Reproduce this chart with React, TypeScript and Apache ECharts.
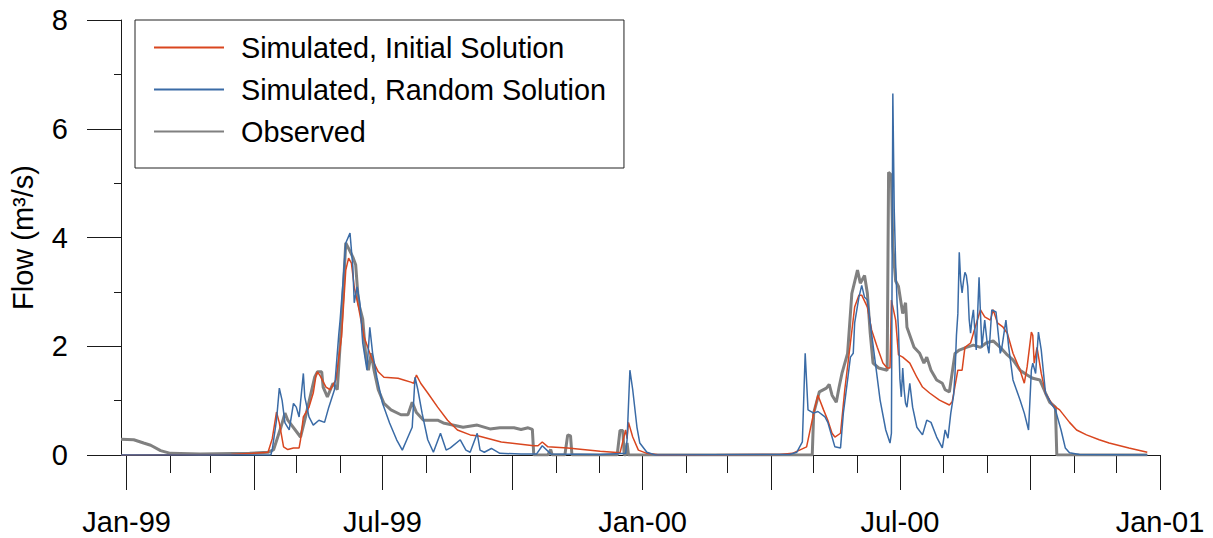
import React, { useEffect, useRef } from "react";
import * as echarts from "echarts";

const FONT = "'Liberation Sans', Arial, Helvetica, sans-serif";

const X_MIN = "1998-12-28";
const X_MAX = "2001-01-01";

const MONTH_TICKS = [
  "1999-01-01", "1999-02-01", "1999-03-01", "1999-04-01", "1999-05-01", "1999-06-01",
  "1999-07-01", "1999-08-01", "1999-09-01", "1999-10-01", "1999-11-01", "1999-12-01",
  "2000-01-01", "2000-02-01", "2000-03-01", "2000-04-01", "2000-05-01", "2000-06-01",
  "2000-07-01", "2000-08-01", "2000-09-01", "2000-10-01", "2000-11-01", "2000-12-01",
  "2001-01-01",
];
const QUARTER_TICKS = [
  "1999-01-01", "1999-04-01", "1999-07-01", "1999-10-01",
  "2000-01-01", "2000-04-01", "2000-07-01", "2000-10-01", "2001-01-01",
];
const LABEL_TICKS = ["1999-01-01", "1999-07-01", "2000-01-01", "2000-07-01", "2001-01-01"];
const MONTH_NAMES = ["Jan", "Feb", "Mar", "Apr", "May", "Jun", "Jul", "Aug", "Sep", "Oct", "Nov", "Dec"];

const SERIES_NAMES = ["Simulated, Initial Solution", "Simulated, Random Solution", "Observed"];

const observedFlow: [string, number][] = [
  ["1998-12-28", 0.29], ["1999-01-06", 0.28], ["1999-01-13", 0.22], ["1999-01-18", 0.18],
  ["1999-01-25", 0.08], ["1999-02-01", 0.03], ["1999-02-22", 0.02], ["1999-03-29", 0.03],
  ["1999-04-11", 0.05], ["1999-04-15", 0.1], ["1999-04-20", 0.5], ["1999-04-23", 0.77],
  ["1999-04-25", 0.64], ["1999-05-02", 0.4], ["1999-05-04", 0.33], ["1999-05-07", 0.64],
  ["1999-05-14", 1.43], ["1999-05-16", 1.53], ["1999-05-19", 1.53], ["1999-05-20", 1.25],
  ["1999-05-23", 1.07], ["1999-05-27", 1.32], ["1999-05-30", 1.2], ["1999-06-02", 2.43],
  ["1999-06-05", 3.9], ["1999-06-07", 3.8], ["1999-06-10", 3.64], ["1999-06-12", 3.5],
  ["1999-06-14", 2.8], ["1999-06-17", 2.5], ["1999-06-19", 1.87], ["1999-06-21", 1.56],
  ["1999-06-23", 1.87], ["1999-06-25", 1.56], ["1999-06-28", 1.2], ["1999-07-02", 0.95],
  ["1999-07-07", 0.83], ["1999-07-14", 0.74], ["1999-07-19", 0.74], ["1999-07-22", 0.97],
  ["1999-07-25", 0.78], ["1999-07-30", 0.64], ["1999-08-09", 0.64], ["1999-08-13", 0.59],
  ["1999-08-27", 0.51], ["1999-09-06", 0.55], ["1999-09-15", 0.48], ["1999-09-22", 0.5],
  ["1999-10-02", 0.5], ["1999-10-07", 0.47], ["1999-10-12", 0.5], ["1999-10-15", 0.47],
  ["1999-10-16", 0], ["1999-10-26", 0], ["1999-10-28", 0.1], ["1999-10-29", 0],
  ["1999-11-07", 0], ["1999-11-09", 0.37], ["1999-11-11", 0.35], ["1999-11-12", 0],
  ["1999-12-14", 0], ["1999-12-16", 0.45], ["1999-12-18", 0.45], ["1999-12-19", 0],
  ["1999-12-20", 0], ["1999-12-21", 0.22], ["1999-12-22", 0], ["2000-04-30", 0],
  ["2000-05-01", 0.77], ["2000-05-05", 1.16], ["2000-05-10", 1.23], ["2000-05-12", 1.3],
  ["2000-05-14", 1.1], ["2000-05-17", 0.97], ["2000-05-19", 1.25], ["2000-05-21", 1.5],
  ["2000-05-25", 1.87], ["2000-05-28", 2.97], ["2000-06-01", 3.4], ["2000-06-03", 3.16],
  ["2000-06-06", 3.3], ["2000-06-08", 2.97], ["2000-06-10", 2.24], ["2000-06-12", 1.69],
  ["2000-06-16", 1.6], ["2000-06-22", 1.56], ["2000-06-23", 5.2], ["2000-06-25", 5.15],
  ["2000-06-26", 3.83], ["2000-06-28", 3.2], ["2000-06-30", 3.1], ["2000-07-03", 2.6],
  ["2000-07-05", 2.8], ["2000-07-06", 2.35], ["2000-07-11", 1.98], ["2000-07-15", 1.87],
  ["2000-07-18", 1.69], ["2000-07-20", 1.8], ["2000-07-23", 1.56], ["2000-07-27", 1.38],
  ["2000-07-31", 1.32], ["2000-08-02", 1.2], ["2000-08-05", 1.16], ["2000-08-09", 1.87],
  ["2000-08-12", 1.93], ["2000-08-17", 1.98], ["2000-08-22", 2.02], ["2000-08-27", 1.98],
  ["2000-08-31", 2.06], ["2000-09-05", 2.1], ["2000-09-10", 1.98], ["2000-09-15", 1.84],
  ["2000-09-19", 1.75], ["2000-09-24", 1.56], ["2000-09-29", 1.47], ["2000-10-03", 1.41],
  ["2000-10-08", 1.38], ["2000-10-12", 1.14], ["2000-10-15", 0.97], ["2000-10-19", 0.88],
  ["2000-10-20", 0], ["2000-12-23", 0],
];

const initialFlow: [string, number][] = [
  ["1998-12-28", 0], ["1999-03-16", 0.01], ["1999-03-31", 0.03], ["1999-04-11", 0.05],
  ["1999-04-14", 0.3], ["1999-04-17", 0.79], ["1999-04-19", 0.59], ["1999-04-22", 0.15],
  ["1999-04-25", 0.1], ["1999-04-29", 0.13], ["1999-05-03", 0.13], ["1999-05-04", 0.28],
  ["1999-05-06", 0.7], ["1999-05-10", 0.88], ["1999-05-13", 1.14], ["1999-05-15", 1.47],
  ["1999-05-16", 1.53], ["1999-05-18", 1.45], ["1999-05-22", 1.25], ["1999-05-25", 1.2],
  ["1999-05-29", 1.38], ["1999-06-02", 2.17], ["1999-06-05", 3.4], ["1999-06-07", 3.62],
  ["1999-06-09", 3.53], ["1999-06-11", 3.09], ["1999-06-14", 2.72], ["1999-06-18", 2.17],
  ["1999-06-23", 1.8], ["1999-06-28", 1.53], ["1999-07-02", 1.43], ["1999-07-12", 1.41],
  ["1999-07-16", 1.38], ["1999-07-21", 1.34], ["1999-07-23", 1.32], ["1999-07-25", 1.47],
  ["1999-07-28", 1.32], ["1999-08-02", 1.14], ["1999-08-09", 0.88], ["1999-08-16", 0.64],
  ["1999-08-23", 0.46], ["1999-09-01", 0.37], ["1999-09-07", 0.35], ["1999-09-23", 0.24],
  ["1999-10-16", 0.17], ["1999-10-19", 0.17], ["1999-10-22", 0.24], ["1999-10-26", 0.15],
  ["1999-11-09", 0.13], ["1999-12-02", 0.07], ["1999-12-16", 0.04], ["1999-12-20", 0.46],
  ["1999-12-21", 0.3], ["1999-12-22", 0.6], ["1999-12-25", 0.33], ["1999-12-29", 0.09],
  ["2000-01-04", 0.03], ["2000-01-13", 0], ["2000-04-07", 0.01], ["2000-04-16", 0.03],
  ["2000-04-26", 0.15], ["2000-05-01", 0.77], ["2000-05-04", 1.1], ["2000-05-08", 0.83],
  ["2000-05-11", 0.64], ["2000-05-14", 0.4], ["2000-05-16", 0.33], ["2000-05-20", 0.4],
  ["2000-05-23", 1.2], ["2000-05-27", 2.06], ["2000-05-30", 2.72], ["2000-06-02", 2.94],
  ["2000-06-04", 2.94], ["2000-06-08", 2.72], ["2000-06-11", 2.3], ["2000-06-15", 1.98],
  ["2000-06-19", 1.69], ["2000-06-22", 1.6], ["2000-06-24", 1.6], ["2000-06-25", 2.85],
  ["2000-06-28", 2.48], ["2000-06-30", 1.84], ["2000-07-03", 1.8], ["2000-07-08", 1.69],
  ["2000-07-13", 1.43], ["2000-07-17", 1.25], ["2000-07-22", 1.14], ["2000-07-29", 1.01],
  ["2000-08-05", 0.92], ["2000-08-07", 0.98], ["2000-08-11", 1.56], ["2000-08-14", 1.56],
  ["2000-08-16", 1.98], ["2000-08-20", 2.06], ["2000-08-22", 2.24], ["2000-08-27", 2.67],
  ["2000-08-30", 2.54], ["2000-09-03", 2.48], ["2000-09-05", 2.67], ["2000-09-08", 2.43],
  ["2000-09-12", 2.35], ["2000-09-15", 2.24], ["2000-09-19", 1.87], ["2000-09-24", 1.56],
  ["2000-09-27", 1.32], ["2000-09-29", 1.62], ["2000-10-02", 2.26], ["2000-10-03", 2.2],
  ["2000-10-04", 1.69], ["2000-10-06", 1.98], ["2000-10-09", 1.5], ["2000-10-12", 1.14],
  ["2000-10-17", 0.92], ["2000-10-22", 0.83], ["2000-10-29", 0.6], ["2000-11-03", 0.46],
  ["2000-11-10", 0.37], ["2000-11-19", 0.28], ["2000-11-26", 0.22], ["2000-12-10", 0.13],
  ["2000-12-23", 0.05],
];

const randomFlow: [string, number][] = [
  ["1998-12-28", 0], ["1999-04-13", 0], ["1999-04-14", 0.1], ["1999-04-17", 0.64],
  ["1999-04-19", 1.23], ["1999-04-21", 1.0], ["1999-04-23", 0.59], ["1999-04-26", 0.46],
  ["1999-04-29", 0.95], ["1999-05-01", 0.88], ["1999-05-03", 0.7], ["1999-05-06", 1.5],
  ["1999-05-07", 1.07], ["1999-05-10", 0.7], ["1999-05-13", 0.55], ["1999-05-17", 0.64],
  ["1999-05-21", 0.6], ["1999-05-24", 0.88], ["1999-05-28", 1.2], ["1999-05-31", 2.2],
  ["1999-06-01", 2.48], ["1999-06-03", 3.16], ["1999-06-05", 3.9], ["1999-06-08", 4.08],
  ["1999-06-10", 3.46], ["1999-06-11", 2.8], ["1999-06-13", 3.09], ["1999-06-15", 2.8],
  ["1999-06-17", 2.06], ["1999-06-20", 1.56], ["1999-06-22", 2.35], ["1999-06-24", 1.87],
  ["1999-06-27", 1.43], ["1999-07-01", 0.95], ["1999-07-06", 0.59], ["1999-07-11", 0.28],
  ["1999-07-15", 0.09], ["1999-07-19", 0.33], ["1999-07-22", 0.51], ["1999-07-24", 1.43],
  ["1999-07-26", 1.2], ["1999-07-29", 0.77], ["1999-08-02", 0.28], ["1999-08-06", 0.05],
  ["1999-08-11", 0.4], ["1999-08-15", 0.09], ["1999-08-18", 0.13], ["1999-08-25", 0.28],
  ["1999-08-29", 0.09], ["1999-09-01", 0.05], ["1999-09-06", 0.4], ["1999-09-08", 0.09],
  ["1999-09-11", 0.05], ["1999-09-16", 0.12], ["1999-09-22", 0.03], ["1999-10-07", 0.02],
  ["1999-10-18", 0.02], ["1999-10-22", 0.17], ["1999-10-28", 0.02], ["1999-12-02", 0.01],
  ["1999-12-20", 0.03], ["1999-12-21", 0.28], ["1999-12-23", 1.56], ["1999-12-25", 1.2],
  ["1999-12-28", 0.51], ["1999-12-30", 0.22], ["2000-01-04", 0.05], ["2000-01-10", 0],
  ["2000-04-14", 0.01], ["2000-04-19", 0.05], ["2000-04-23", 0.24], ["2000-04-25", 1.87],
  ["2000-04-27", 0.83], ["2000-05-01", 0.77], ["2000-05-04", 0.8], ["2000-05-09", 0.7],
  ["2000-05-11", 0.6], ["2000-05-14", 0.33], ["2000-05-16", 0.15], ["2000-05-20", 0.13],
  ["2000-05-22", 0.77], ["2000-05-25", 1.38], ["2000-05-27", 1.8], ["2000-05-29", 1.87],
  ["2000-05-30", 2.43], ["2000-06-02", 2.9], ["2000-06-04", 3.12], ["2000-06-06", 2.9],
  ["2000-06-08", 2.85], ["2000-06-10", 2.43], ["2000-06-14", 1.62], ["2000-06-17", 1.01],
  ["2000-06-21", 0.46], ["2000-06-24", 0.22], ["2000-06-25", 0.4], ["2000-06-26", 6.65],
  ["2000-06-27", 4.5], ["2000-06-28", 3.5], ["2000-06-29", 2.8], ["2000-06-30", 2.3],
  ["2000-07-01", 1.4], ["2000-07-02", 1.07], ["2000-07-03", 1.6], ["2000-07-04", 1.2],
  ["2000-07-05", 0.95], ["2000-07-06", 0.88], ["2000-07-08", 1.32], ["2000-07-10", 0.88],
  ["2000-07-13", 0.51], ["2000-07-17", 0.37], ["2000-07-20", 0.64], ["2000-07-23", 0.6],
  ["2000-07-27", 0.33], ["2000-07-31", 0.13], ["2000-08-02", 0.46], ["2000-08-04", 0.31],
  ["2000-08-06", 0.77], ["2000-08-08", 1.1], ["2000-08-09", 1.5], ["2000-08-10", 2.2],
  ["2000-08-11", 2.6], ["2000-08-12", 3.73], ["2000-08-13", 3.2], ["2000-08-14", 2.98],
  ["2000-08-15", 3.2], ["2000-08-16", 3.36], ["2000-08-17", 3.3], ["2000-08-18", 3.1],
  ["2000-08-19", 2.5], ["2000-08-20", 2.24], ["2000-08-21", 2.5], ["2000-08-22", 2.67],
  ["2000-08-23", 2.3], ["2000-08-24", 1.93], ["2000-08-26", 3.27], ["2000-08-27", 2.6],
  ["2000-08-28", 1.98], ["2000-08-30", 2.48], ["2000-09-01", 2.0], ["2000-09-02", 1.87],
  ["2000-09-04", 2.67], ["2000-09-07", 2.63], ["2000-09-10", 1.87], ["2000-09-11", 1.95],
  ["2000-09-14", 2.48], ["2000-09-16", 1.98], ["2000-09-19", 1.38], ["2000-09-24", 1.01],
  ["2000-09-27", 0.77], ["2000-09-30", 0.46], ["2000-10-02", 1.56], ["2000-10-03", 1.69],
  ["2000-10-05", 1.5], ["2000-10-07", 2.26], ["2000-10-09", 1.93], ["2000-10-12", 1.14],
  ["2000-10-16", 0.95], ["2000-10-19", 0.83], ["2000-10-23", 0.46], ["2000-10-26", 0.13],
  ["2000-10-29", 0.04], ["2000-11-05", 0.01], ["2000-12-23", 0],
];

const toTs = (s: string) => {
  const [y, m, d] = s.split("-").map(Number);
  return Date.UTC(y, m - 1, d);
};
const toPoints = (arr: [string, number][]) => arr.map(([d, v]) => [toTs(d), v]);

const AXIS_COLOR = "#1a1a1a";

export default function App() {
  const ref = useRef<HTMLDivElement>(null);

  useEffect(() => {
    if (!ref.current) return;
    const chart = echarts.init(ref.current, undefined, { renderer: "svg" });
    const lineStyle = { color: AXIS_COLOR, width: 1 };
    chart.setOption({
      animation: false,
      textStyle: { fontFamily: FONT },
      grid: { left: 121, top: 20, right: 53, bottom: 83, containLabel: false },
      legend: {
        left: 135,
        top: 20,
        orient: "vertical",
        data: SERIES_NAMES,
        itemWidth: 70,
        itemHeight: 14,
        itemGap: 13,
        padding: [13, 18, 22, 18],
        borderColor: "#222",
        borderWidth: 1,
        backgroundColor: "#fff",
        itemStyle: { opacity: 0, borderWidth: 0 },
        textStyle: { fontSize: 28.8, color: "#000", fontFamily: FONT, padding: [0, 0, 0, 12] },
      },
      xAxis: [
        {
          type: "value",
          min: toTs(X_MIN),
          max: toTs(X_MAX),
          axisLine: { show: true, onZero: false, lineStyle },
          axisTick: { show: true, customValues: MONTH_TICKS.map(toTs), length: 18, lineStyle },
          axisLabel: { show: false },
          splitLine: { show: false },
        },
        {
          type: "value",
          min: toTs(X_MIN),
          max: toTs(X_MAX),
          position: "bottom",
          axisLine: { show: false, onZero: false },
          axisTick: { show: true, customValues: QUARTER_TICKS.map(toTs), length: 35, lineStyle },
          axisLabel: {
            show: true,
            customValues: LABEL_TICKS.map(toTs),
            margin: 52,
            fontSize: 29,
            color: "#000",
            fontFamily: FONT,
            formatter: (v: number) => {
              const dt = new Date(v);
              return `${MONTH_NAMES[dt.getUTCMonth()]}-${String(dt.getUTCFullYear()).slice(2)}`;
            },
          },
          splitLine: { show: false },
        },
      ],
      yAxis: {
        type: "value",
        min: 0,
        max: 8,
        interval: 2,
        axisLine: { show: true, lineStyle },
        axisTick: { show: true, length: 34, lineStyle },
        minorTick: { show: true, splitNumber: 2, length: 7, lineStyle },
        splitLine: { show: false },
        minorSplitLine: { show: false },
        axisLabel: { margin: 53, fontSize: 29, color: "#000", fontFamily: FONT },
        name: "Flow (m³/s)",
        nameLocation: "middle",
        nameGap: 84,
        nameTextStyle: { fontSize: 29, color: "#000", fontFamily: FONT },
      },
      series: [
        {
          name: "Observed",
          type: "line",
          xAxisIndex: 0,
          data: toPoints(observedFlow),
          symbol: "none",
          showSymbol: false,
          lineStyle: { color: "#808080", width: 3 },
          itemStyle: { color: "#808080" },
          z: 2,
        },
        {
          name: "Simulated, Initial Solution",
          type: "line",
          xAxisIndex: 0,
          data: toPoints(initialFlow),
          symbol: "none",
          showSymbol: false,
          lineStyle: { color: "#D9461F", width: 1.5 },
          itemStyle: { color: "#D9461F" },
          z: 3,
        },
        {
          name: "Simulated, Random Solution",
          type: "line",
          xAxisIndex: 0,
          data: toPoints(randomFlow),
          symbol: "none",
          showSymbol: false,
          lineStyle: { color: "#3A6BA6", width: 1.5 },
          itemStyle: { color: "#3A6BA6" },
          z: 4,
        },
      ],
    });
    return () => chart.dispose();
  }, []);

  return (
    <div
      ref={ref}
      style={{ position: "absolute", left: 0, top: 0, width: 1213, height: 538, background: "#fff" }}
    />
  );
}
